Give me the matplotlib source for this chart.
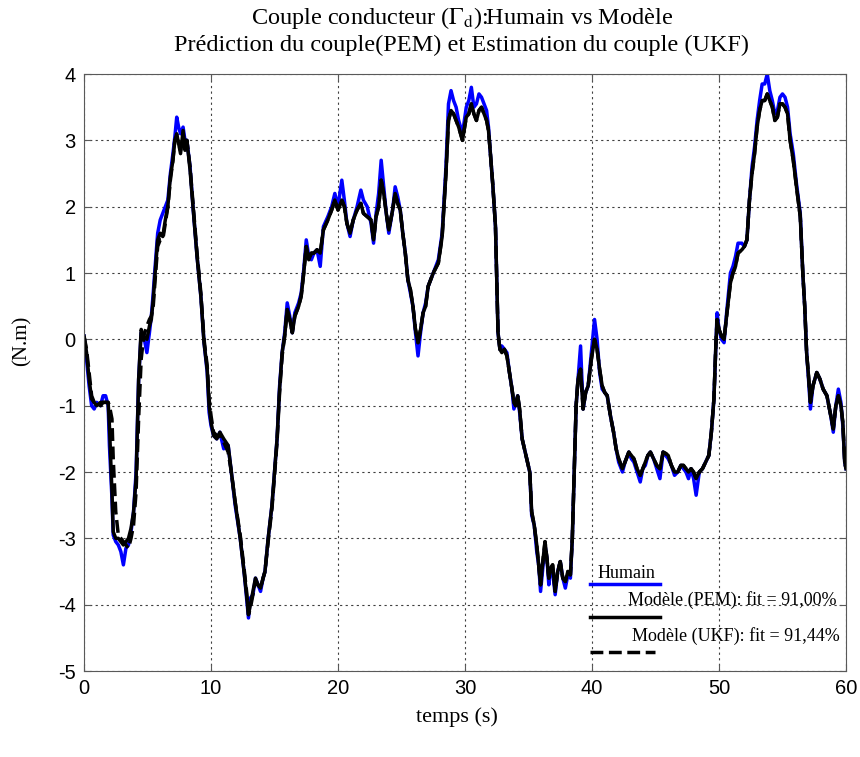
"""Couple conducteur: humain vs modele (PEM / UKF)."""

import matplotlib
matplotlib.use("Agg")
import matplotlib.pyplot as plt

# time (s)
t = [0.0, 0.2, 0.4, 0.6, 0.8, 1.0, 1.3, 1.5, 1.7, 1.9,
     2.0, 2.2, 2.3, 2.5, 2.7, 2.9, 3.1, 3.3, 3.5, 3.7,
     3.9, 4.1, 4.3, 4.5, 4.7, 4.95, 5.15, 5.3, 5.45, 5.6,
     5.8, 6.0, 6.2, 6.4, 6.6, 6.8, 7.0, 7.15, 7.3, 7.45,
     7.6, 7.8, 7.95, 8.1, 8.35, 8.6, 8.9, 9.2, 9.45, 9.7,
     9.85, 10.0, 10.2, 10.45, 10.7, 11.0, 11.35, 11.6, 11.9, 12.3,
     12.6, 12.8, 12.95, 13.1, 13.3, 13.5, 13.7, 13.9, 14.1, 14.25,
     14.5, 14.8, 15.0, 15.2, 15.4, 15.6, 15.8, 16.0, 16.2, 16.4,
     16.6, 16.9, 17.1, 17.3, 17.5, 17.7, 17.9, 18.1, 18.35, 18.6,
     18.85, 19.2, 19.5, 19.75, 20.0, 20.3, 20.5, 20.7, 20.95, 21.2,
     21.5, 21.8, 22.0, 22.3, 22.6, 22.8, 23.0, 23.2, 23.4, 23.6,
     23.8, 24.0, 24.3, 24.5, 24.7, 24.9, 25.1, 25.3, 25.5, 25.7,
     25.9, 26.1, 26.3, 26.5, 26.7, 26.9, 27.1, 27.5, 27.9, 28.2,
     28.5, 28.7, 28.9, 29.1, 29.3, 29.5, 29.8, 30.1, 30.3, 30.5,
     30.7, 30.9, 31.1, 31.3, 31.5, 31.7, 31.85, 32.0, 32.2, 32.4,
     32.5, 32.6, 32.75, 32.9, 33.1, 33.3, 33.5, 33.7, 33.85, 34.0,
     34.15, 34.3, 34.5, 34.8, 35.1, 35.25, 35.45, 35.65, 35.8, 35.95,
     36.1, 36.3, 36.45, 36.6, 36.75, 36.9, 37.1, 37.3, 37.5, 37.7,
     37.9, 38.1, 38.3, 38.45, 38.6, 38.75, 38.9, 39.1, 39.3, 39.5,
     39.7, 39.95, 40.2, 40.4, 40.6, 40.8, 41.0, 41.2, 41.45, 41.7,
     41.9, 42.1, 42.4, 42.6, 42.9, 43.1, 43.3, 43.55, 43.8, 44.0,
     44.2, 44.4, 44.6, 44.85, 45.1, 45.35, 45.6, 45.8, 46.0, 46.25,
     46.5, 46.75, 47.0, 47.2, 47.4, 47.6, 47.8, 48.0, 48.2, 48.45,
     48.7, 48.95, 49.2, 49.4, 49.6, 49.75, 49.85, 50.0, 50.2, 50.4,
     50.6, 50.9, 51.1, 51.3, 51.5, 51.8, 52.0, 52.2, 52.4, 52.6,
     52.8, 53.0, 53.2, 53.4, 53.6, 53.8, 54.0, 54.2, 54.4, 54.6,
     54.8, 55.0, 55.2, 55.4, 55.6, 55.85, 56.1, 56.4, 56.6, 56.75,
     56.9, 57.05, 57.2, 57.4, 57.7, 57.95, 58.2, 58.5, 58.8, 59.0,
     59.2, 59.4, 59.6, 59.75, 59.9, 60.0]

# measured driver torque (N.m)
humain = [0.05, -0.3, -0.7, -1.0, -1.05, -0.95, -1.0, -0.85, -0.85, -1.0,
          -1.6, -2.4, -2.95, -3.05, -3.1, -3.2, -3.4, -3.15, -3.1, -2.9,
          -2.6, -2.0, -0.6, 0.1, 0.05, -0.2, 0.1, 0.35, 0.7, 1.1,
          1.6, 1.8, 1.9, 2.0, 2.1, 2.5, 2.8, 3.05, 3.35, 3.2,
          3.1, 3.2, 3.0, 3.0, 2.6, 1.95, 1.25, 0.65, -0.05, -0.5,
          -1.1, -1.3, -1.45, -1.5, -1.4, -1.65, -1.6, -2.0, -2.5, -3.0,
          -3.5, -3.9, -4.2, -3.9, -3.85, -3.6, -3.7, -3.8, -3.6, -3.5,
          -3.0, -2.5, -2.0, -1.5, -0.7, -0.2, 0.1, 0.55, 0.35, 0.1,
          0.4, 0.55, 0.7, 1.05, 1.5, 1.25, 1.2, 1.3, 1.35, 1.1,
          1.7, 1.85, 2.0, 2.2, 2.0, 2.4, 2.1, 1.75, 1.55, 1.8,
          2.0, 2.25, 2.1, 2.0, 1.75, 1.45, 1.9, 2.2, 2.7, 2.3,
          1.9, 1.6, 1.95, 2.3, 2.15, 1.95, 1.6, 1.3, 0.9, 0.7,
          0.5, 0.1, -0.25, 0.1, 0.4, 0.55, 0.8, 1.0, 1.2, 1.6,
          2.6, 3.55, 3.75, 3.6, 3.5, 3.3, 3.1, 3.5, 3.6, 3.8,
          3.5, 3.55, 3.7, 3.65, 3.55, 3.45, 3.2, 2.8, 2.3, 1.7,
          0.9, 0.1, -0.15, -0.1, -0.15, -0.2, -0.5, -0.75, -1.05, -0.95,
          -0.85, -1.1, -1.5, -1.75, -2.0, -2.65, -2.8, -3.2, -3.4, -3.8,
          -3.5, -3.1, -3.3, -3.7, -3.45, -3.5, -3.85, -3.5, -3.35, -3.6,
          -3.75, -3.55, -3.6, -3.0, -2.0, -1.0, -0.6, -0.1, -1.05, -0.8,
          -0.7, -0.2, 0.3, 0.0, -0.5, -0.75, -0.8, -0.85, -1.15, -1.4,
          -1.65, -1.85, -2.0, -1.85, -1.7, -1.8, -1.85, -2.0, -2.15, -1.95,
          -1.9, -1.75, -1.7, -1.8, -1.95, -2.1, -1.7, -1.75, -1.8, -1.9,
          -2.05, -2.0, -1.9, -1.95, -2.0, -2.1, -1.95, -2.1, -2.35, -2.0,
          -1.95, -1.85, -1.75, -1.4, -0.9, -0.1, 0.4, 0.15, 0.0, -0.05,
          0.4, 1.0, 1.1, 1.25, 1.45, 1.45, 1.4, 1.5, 2.1, 2.6,
          2.9, 3.3, 3.6, 3.85, 3.85, 4.0, 3.75, 3.6, 3.4, 3.45,
          3.65, 3.7, 3.65, 3.5, 3.1, 2.8, 2.35, 1.9, 1.0, 0.5,
          -0.2, -0.6, -1.05, -0.7, -0.5, -0.6, -0.75, -0.85, -1.15, -1.4,
          -1.0, -0.75, -0.95, -1.3, -1.85, -1.95]

# PEM prediction (N.m)
pem = [0.05, -0.2, -0.6, -0.9, -0.95, -1.0, -0.95, -0.95, -0.95, -0.95,
       -1.3, -2.3, -2.9, -3.0, -3.0, -3.05, -3.1, -3.05, -3.0, -2.85,
       -2.6, -2.1, -0.6, 0.15, 0.05, 0.0, 0.2, 0.3, 0.6, 1.0,
       1.5, 1.6, 1.55, 1.8, 2.0, 2.45, 2.7, 3.0, 3.1, 2.95,
       2.8, 3.15, 2.85, 3.0, 2.55, 1.95, 1.25, 0.65, -0.05, -0.45,
       -1.0, -1.25, -1.45, -1.5, -1.4, -1.5, -1.6, -2.0, -2.45, -3.0,
       -3.5, -3.85, -4.15, -4.0, -3.8, -3.6, -3.7, -3.75, -3.6, -3.5,
       -3.0, -2.5, -2.0, -1.5, -0.75, -0.2, 0.05, 0.45, 0.3, 0.1,
       0.35, 0.5, 0.65, 1.0, 1.4, 1.2, 1.3, 1.3, 1.35, 1.3,
       1.65, 1.8, 1.95, 2.1, 1.95, 2.1, 2.0, 1.75, 1.6, 1.8,
       1.95, 2.05, 1.9, 1.85, 1.8, 1.5, 1.85, 2.0, 2.4, 2.2,
       1.9, 1.65, 1.95, 2.2, 2.05, 1.95, 1.6, 1.3, 0.9, 0.75,
       0.5, 0.15, -0.05, 0.15, 0.4, 0.5, 0.8, 1.0, 1.15, 1.55,
       2.5, 3.3, 3.45, 3.4, 3.3, 3.2, 3.0, 3.35, 3.4, 3.55,
       3.4, 3.3, 3.45, 3.5, 3.4, 3.3, 3.15, 2.8, 2.3, 1.7,
       0.9, 0.1, -0.15, -0.2, -0.15, -0.25, -0.5, -0.75, -0.95, -1.0,
       -0.85, -1.05, -1.5, -1.75, -2.0, -2.6, -2.8, -3.1, -3.4, -3.7,
       -3.4, -3.05, -3.3, -3.6, -3.45, -3.4, -3.8, -3.5, -3.35, -3.6,
       -3.65, -3.5, -3.55, -3.0, -2.0, -1.0, -0.6, -0.45, -1.05, -0.8,
       -0.7, -0.3, 0.0, -0.15, -0.45, -0.7, -0.8, -0.85, -1.15, -1.4,
       -1.65, -1.8, -1.95, -1.85, -1.7, -1.75, -1.8, -1.95, -2.05, -1.95,
       -1.85, -1.75, -1.7, -1.8, -1.9, -1.95, -1.7, -1.72, -1.75, -1.9,
       -2.0, -2.0, -1.9, -1.9, -1.95, -2.0, -1.95, -2.0, -2.1, -2.0,
       -1.95, -1.85, -1.75, -1.4, -0.9, -0.1, 0.3, 0.15, 0.05, 0.0,
       0.35, 0.85, 1.0, 1.1, 1.3, 1.35, 1.4, 1.5, 2.1, 2.5,
       2.8, 3.2, 3.45, 3.6, 3.6, 3.7, 3.6, 3.5, 3.3, 3.35,
       3.55, 3.55, 3.5, 3.4, 3.0, 2.7, 2.3, 1.85, 1.0, 0.5,
       -0.2, -0.55, -0.95, -0.7, -0.5, -0.6, -0.75, -0.85, -1.15, -1.35,
       -1.0, -0.85, -1.0, -1.25, -1.85, -1.95]

# UKF estimation (N.m)
ukf = [0.05, -0.15, -0.5, -0.85, -0.95, -0.95, -1.0, -0.95, -0.95, -0.95,
       -1.0, -1.2, -1.8, -2.6, -2.95, -3.0, -3.05, -3.1, -3.15, -3.0,
       -2.8, -2.3, -1.2, -0.3, 0.05, 0.2, 0.3, 0.35, 0.5, 0.9,
       1.4, 1.5, 1.5, 1.75, 2.0, 2.4, 2.7, 3.0, 3.05, 2.95,
       2.85, 3.1, 2.9, 3.0, 2.6, 2.0, 1.3, 0.7, 0.0, -0.4,
       -0.9, -1.15, -1.4, -1.45, -1.45, -1.55, -1.7, -2.0, -2.45, -2.95,
       -3.45, -3.8, -4.15, -4.05, -3.85, -3.65, -3.7, -3.75, -3.6, -3.5,
       -3.05, -2.55, -2.05, -1.55, -0.8, -0.25, 0.05, 0.45, 0.3, 0.1,
       0.35, 0.5, 0.65, 1.0, 1.4, 1.2, 1.3, 1.3, 1.35, 1.3,
       1.65, 1.8, 1.95, 2.1, 1.95, 2.1, 2.0, 1.75, 1.6, 1.8,
       1.95, 2.05, 1.9, 1.85, 1.8, 1.5, 1.85, 2.0, 2.4, 2.2,
       1.9, 1.65, 1.95, 2.2, 2.05, 1.95, 1.6, 1.3, 0.9, 0.75,
       0.5, 0.15, -0.05, 0.15, 0.4, 0.5, 0.8, 1.0, 1.15, 1.55,
       2.5, 3.3, 3.45, 3.4, 3.3, 3.2, 3.0, 3.35, 3.4, 3.55,
       3.4, 3.3, 3.45, 3.5, 3.4, 3.3, 3.15, 2.8, 2.3, 1.7,
       0.9, 0.1, -0.15, -0.2, -0.15, -0.25, -0.5, -0.75, -0.95, -1.0,
       -0.85, -1.05, -1.5, -1.75, -2.0, -2.6, -2.8, -3.1, -3.4, -3.7,
       -3.4, -3.05, -3.3, -3.6, -3.45, -3.4, -3.8, -3.5, -3.35, -3.6,
       -3.65, -3.5, -3.55, -3.0, -2.0, -1.0, -0.6, -0.45, -1.05, -0.8,
       -0.7, -0.3, 0.0, -0.15, -0.45, -0.7, -0.8, -0.85, -1.15, -1.4,
       -1.65, -1.8, -1.95, -1.85, -1.7, -1.75, -1.8, -1.95, -2.05, -1.95,
       -1.85, -1.75, -1.7, -1.8, -1.9, -1.95, -1.7, -1.72, -1.75, -1.9,
       -2.0, -2.0, -1.9, -1.9, -1.95, -2.0, -1.95, -2.0, -2.1, -2.0,
       -1.95, -1.85, -1.75, -1.4, -0.9, -0.1, 0.3, 0.15, 0.05, 0.0,
       0.35, 0.85, 1.0, 1.1, 1.3, 1.35, 1.4, 1.5, 2.1, 2.5,
       2.8, 3.2, 3.45, 3.6, 3.6, 3.7, 3.6, 3.5, 3.3, 3.35,
       3.55, 3.55, 3.5, 3.4, 3.0, 2.7, 2.3, 1.85, 1.0, 0.5,
       -0.2, -0.55, -0.95, -0.7, -0.5, -0.6, -0.75, -0.85, -1.15, -1.35,
       -1.0, -0.85, -1.0, -1.25, -1.85, -1.95]

legend_labels = ["Humain", "Modèle (PEM): fit = 91,00%", "Modèle (UKF): fit = 91,44%"]

plt.rcParams["axes.unicode_minus"] = False
plt.rcParams["mathtext.fontset"] = "stix"
serif = ["Liberation Serif", "DejaVu Serif"]
sans = ["Liberation Sans", "DejaVu Sans"]

fig = plt.figure(figsize=(8.6, 7.57), dpi=100)
ax = fig.add_axes([0.0977, 0.1136, 0.8860, 0.7886])

lw = 2.5
ax.plot(t, humain, color="#0000ff", lw=lw)
ax.plot(t, pem, color="black", lw=lw)
ax.plot(t, ukf, color="black", lw=lw, ls="--")

ax.set_xlim(0, 60)
ax.set_ylim(-5, 4)
ax.set_xticks(range(0, 61, 10))
ax.set_yticks(range(-5, 5))
ax.grid(True, color="0.25", ls=(0, (2, 3)), lw=0.8)
ax.tick_params(direction="in", length=5, top=True, right=True, pad=6,
               labelsize=14.5, colors="0.35", labelcolor="black")
for lab in ax.get_xticklabels() + ax.get_yticklabels():
    lab.set_family(sans)
for sp in ax.spines.values():
    sp.set_color("0.35")

# two-line title, placed line by line
fig.text(0.537, 0.976, "Couple conducteur ($\\Gamma_\\mathrm{d}$):Humain vs Modèle",
         family=serif, fontsize=17.5, ha="center", va="center")
fig.text(0.537, 0.9406, "Prédiction du couple(PEM) et Estimation du couple (UKF)",
         family=serif, fontsize=17.5, ha="center", va="center")

ax.set_xlabel("temps (s)", family=serif, fontsize=16)
ax.xaxis.set_label_coords(0.4895, -0.077)
ax.xaxis.label.set_va("center")
ax.set_ylabel("(N.m)", family=serif, fontsize=15)
ax.yaxis.set_label_coords(-0.0814, 0.553)
ax.yaxis.label.set_va("center")

# legend drawn by hand: label above each line sample, no frame
styles = [dict(color="#0000ff", ls="-"), dict(color="black", ls="-"),
          dict(color="black", ls="--")]
line_y = [0.1457, 0.0905, 0.0318]
text_pos = [(0.6745, 0.1625), (0.714, 0.119), (0.719, 0.0586)]
line_x = [(0.664, 0.756), (0.664, 0.756), (0.664, 0.749)]
for lab, st, ly, tp, lx in zip(legend_labels, styles, line_y, text_pos, line_x):
    ax.plot(lx, [ly, ly], transform=ax.transAxes, lw=lw, clip_on=False, **st)
    ax.text(tp[0], tp[1], lab, transform=ax.transAxes, family=serif,
            fontsize=13, va="center", ha="left")

fig.savefig("out.png", dpi=100)
